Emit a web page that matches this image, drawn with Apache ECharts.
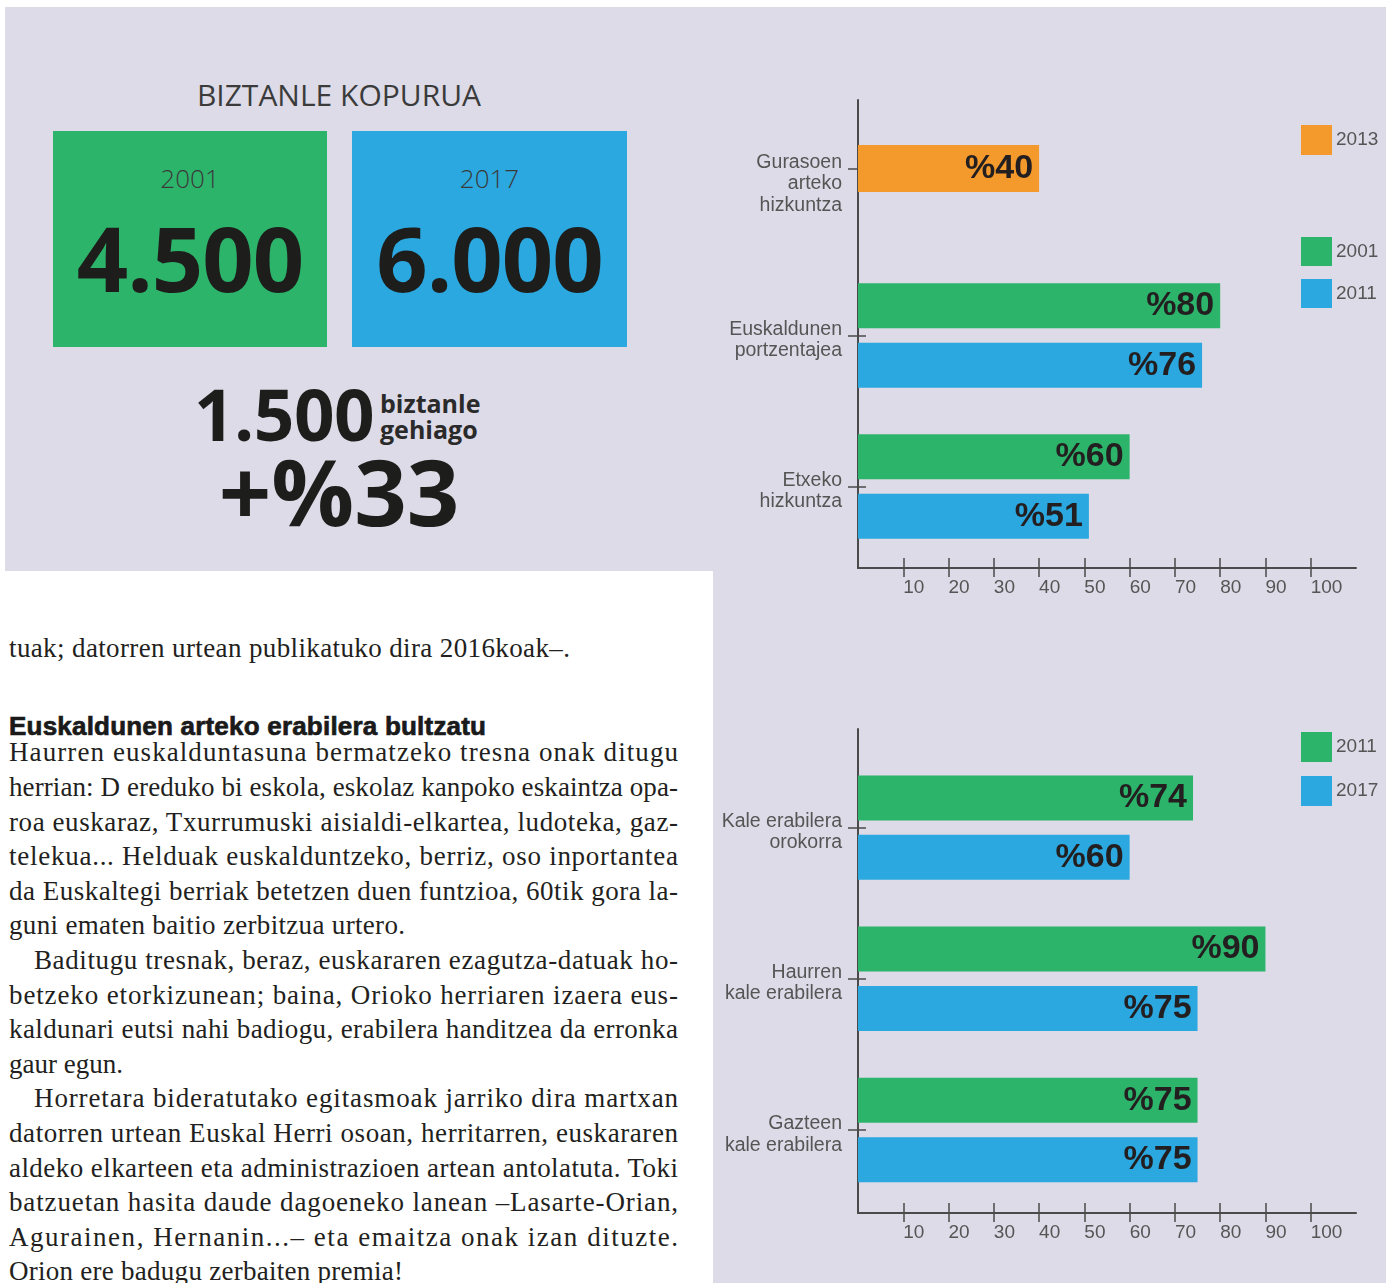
<!DOCTYPE html>
<html lang="eu">
<head>
<meta charset="utf-8">
<title>Orio - biztanleak eta euskara</title>
<script src="https://cdn.jsdelivr.net/npm/echarts@6.0.0/dist/echarts.min.js"></script>
<style>
html,body{margin:0;padding:0;background:#fff;width:1390px;height:1283px;overflow:hidden;}
#page{position:relative;width:1390px;height:1283px;}
#bg{position:absolute;left:5px;top:7px;width:1381px;height:1276px;background:#dddbe7;}
#paper{position:absolute;left:0;top:571px;width:713px;height:712px;background:#fff;}
.t{position:absolute;white-space:nowrap;font-family:'Open Sans','Liberation Sans',sans-serif;color:#1d1d1b;}
.box{position:absolute;top:131px;height:216px;}
.box .yr{position:absolute;left:0;right:0;text-align:center;font-size:26px;line-height:26px;font-weight:300;color:#3a3a3a;top:34px;font-family:'Open Sans',sans-serif;}
.box .num{position:absolute;left:0;right:0;text-align:center;font-size:90px;line-height:90px;font-weight:700;color:#1d1d1b;top:81px;letter-spacing:-1px;font-family:'Open Sans',sans-serif;}
.line{position:absolute;white-space:nowrap;font-family:'Liberation Serif','Times New Roman',serif;font-size:27px;line-height:27px;color:#231f20;}
.head{position:absolute;white-space:nowrap;font-family:'Liberation Sans',Arial,sans-serif;font-weight:bold;font-size:26px;line-height:26px;color:#1a1a1a;-webkit-text-stroke:0.7px #1a1a1a;}
.chart{position:absolute;}
</style>
</head>
<body>
<div id="page">
  <div id="bg"></div>
  <div id="paper"></div>
  <div class="t" style="left:0;width:678px;text-align:center;top:80px;font-size:30px;line-height:30px;color:#3b3b3b;">BIZTANLE KOPURUA</div>
  <div id="boxes"></div>
  <div class="t" id="diffNum" style="left:194px;top:378px;font-size:71px;line-height:71px;font-weight:700;letter-spacing:-0.5px;"></div>
  <div class="t" style="left:380px;top:391px;font-size:25px;line-height:25px;font-weight:700;color:#2a2a2a;">biztanle</div>
  <div class="t" style="left:380px;top:417px;font-size:25px;line-height:25px;font-weight:700;color:#2a2a2a;">gehiago</div>
  <div class="t" id="pctNum" style="left:0;width:678px;text-align:center;top:445px;font-size:92px;line-height:92px;font-weight:700;"></div>
  <div id="article"></div>
  <div class="chart" id="chartA" style="left:711px;top:0;width:679px;height:640px;"></div>
  <div class="chart" id="chartB" style="left:711px;top:640px;width:679px;height:643px;"></div>
</div>
<script>
// ---------- DATA ----------
const popYears = ['2001', '2017'];
const popTotals = [4500, 6000];

const chart1Categories = ['Gurasoen\narteko\nhizkuntza', 'Euskaldunen\nportzentajea', 'Etxeko\nhizkuntza'];
const chart1SeriesNames = ['2013', '2001', '2011'];
const parentsLanguage2013 = [40];
const basque2001 = [80, 60];
const basque2011 = [76, 51];

const chart2Categories = ['Kale erabilera\norokorra', 'Haurren\nkale erabilera', 'Gazteen\nkale erabilera'];
const chart2SeriesNames = ['2011', '2017'];
const street2011 = [74, 90, 75];
const street2017 = [60, 75, 75];

const xTickValues = [10, 20, 30, 40, 50, 60, 70, 80, 90, 100];

const articleHead = 'Euskaldunen arteko erabilera bultzatu';
const articleFirst = 'tuak; datorren urtean publikatuko dira 2016koak–.';
const articleBody = [
  'Haurren euskalduntasuna bermatzeko tresna onak ditugu',
  'herrian: D ereduko bi eskola, eskolaz kanpoko eskaintza opa-',
  'roa euskaraz, Txurrumuski aisialdi-elkartea, ludoteka, gaz-',
  'telekua... Helduak euskalduntzeko, berriz, oso inportantea',
  'da Euskaltegi berriak betetzen duen funtzioa, 60tik gora la-',
  'guni ematen baitio zerbitzua urtero.',
  'Baditugu tresnak, beraz, euskararen ezagutza-datuak ho-',
  'betzeko etorkizunean; baina, Orioko herriaren izaera eus-',
  'kaldunari eutsi nahi badiogu, erabilera handitzea da erronka',
  'gaur egun.',
  'Horretara bideratutako egitasmoak jarriko dira martxan',
  'datorren urtean Euskal Herri osoan, herritarren, euskararen',
  'aldeko elkarteen eta administrazioen artean antolatuta. Toki',
  'batzuetan hasita daude dagoeneko lanean –Lasarte-Orian,',
  'Agurainen, Hernanin...– eta emaitza onak izan dituzte.',
  'Orion ere badugu zerbaiten premia!'
];

// ---------- STYLE ----------
const GREEN = '#2db46b', BLUE = '#2ba8e0', ORANGE = '#f4992b';
const AXIS_COLOR = '#4a4a4a', LABEL_COLOR = '#555555';
const FONT = "'Liberation Sans', Arial, sans-serif";

function fmt(n) { return String(n).replace(/\B(?=(\d{3})+(?!\d))/g, '.'); }

// ---------- LEFT PANEL ----------
const boxColors = [GREEN, BLUE];
const boxLefts = [53, 352];
const boxWidths = [274, 275];
const boxes = document.getElementById('boxes');
popYears.forEach((y, i) => {
  const b = document.createElement('div');
  b.className = 'box';
  b.style.left = boxLefts[i] + 'px';
  b.style.width = boxWidths[i] + 'px';
  b.style.background = boxColors[i];
  b.innerHTML = '<div class="yr">' + y + '</div><div class="num">' + fmt(popTotals[i]) + '</div>';
  boxes.appendChild(b);
});
const diff = popTotals[1] - popTotals[0];
document.getElementById('diffNum').textContent = fmt(diff);
document.getElementById('pctNum').textContent = '+%' + Math.round(diff / popTotals[0] * 100);

// ---------- ARTICLE ----------
const art = document.getElementById('article');
const fitList = [];
function addLine(cls, text, left, baseline, baseOff, right) {
  const d = document.createElement('div');
  d.className = cls;
  d.textContent = text;
  d.style.left = left + 'px';
  d.style.top = (baseline - baseOff) + 'px';
  art.appendChild(d);
  fitList.push([d, right - left]);
}
addLine('line', articleFirst, 9, 657.5, 22.6, 570);
addLine('head', articleHead, 9, 735, 22, 486);
const indented = [6, 10];
const endsAt = {5: 405, 9: 123, 15: 403};
articleBody.forEach((txt, n) => {
  const left = indented.includes(n) ? 34 : 9;
  const right = endsAt[n] !== undefined ? endsAt[n] : 678;
  addLine('line', txt, left, 762 + 34.6 * n, 22.6, right);
});
function fitAll() {
  fitList.forEach(([el, target]) => {
    el.style.letterSpacing = '0px';
    const w = el.getBoundingClientRect().width;
    const n = Math.max(1, el.textContent.length - 1);
    el.style.letterSpacing = ((target - w) / n) + 'px';
  });
}
fitAll();
if (document.fonts && document.fonts.ready) document.fonts.ready.then(fitAll);

// ---------- CHARTS ----------
const valueLabel = {
  show: true, position: 'insideRight', distance: 6,
  formatter: p => '%' + p.value,
  color: '#231f20', fontSize: 34, fontWeight: 'bold', fontFamily: FONT
};
const legendText = { color: LABEL_COLOR, fontSize: 19, fontFamily: FONT, padding: [0, 0, 0, -1] };

function frameX(gridIndex) {
  return {
    gridIndex, type: 'value', min: 0, max: 110,
    axisLine: { show: true, onZero: false, lineStyle: { color: AXIS_COLOR, width: 2 } },
    axisTick: { show: true, inside: true, length: 10, customValues: xTickValues, lineStyle: { color: AXIS_COLOR, width: 1.5 } },
    axisLabel: { show: true, customValues: xTickValues, align: 'left', margin: 10, color: LABEL_COLOR, fontSize: 19, fontFamily: FONT },
    splitLine: { show: false }
  };
}
function frameY(gridIndex) {
  return {
    gridIndex, type: 'value', min: 0, max: 1,
    axisLine: { show: true, onZero: false, lineStyle: { color: AXIS_COLOR, width: 2 } },
    axisTick: { show: false }, axisLabel: { show: false }, splitLine: { show: false }
  };
}
function barX(gridIndex, offset, showTicks) {
  return {
    gridIndex, type: 'value', min: 0, max: 110, offset: offset, show: true,
    axisLine: { show: false, onZero: false },
    axisTick: { show: showTicks, length: 9, customValues: xTickValues, lineStyle: { color: AXIS_COLOR, width: 1.5 } },
    axisLabel: { show: false }, splitLine: { show: false }
  };
}
function catY(gridIndex, data) {
  return {
    gridIndex, type: 'category', inverse: true, data, offset: -8,
    axisLine: { show: false, onZero: false },
    axisTick: { show: true, alignWithLabel: true, length: 18, lineStyle: { color: AXIS_COLOR, width: 1.5 } },
    axisLabel: { show: true, interval: 0, margin: 24, color: LABEL_COLOR, fontSize: 19.5, lineHeight: 21.5,
      fontFamily: FONT, align: 'right', verticalAlign: 'top', padding: [-17, 0, 0, 0] },
    splitLine: { show: false }
  };
}
function grid(top, height) {
  return { left: 147, right: 34, top, height, outerBoundsMode: 'none', containLabel: false };
}
function legend(names, top, itemHeight, itemGap) {
  return { data: names, left: 590, top, orient: 'vertical', icon: 'rect', padding: 0,
    itemWidth: 31, itemHeight, itemGap, textStyle: legendText, selectedMode: false };
}

const chartA = echarts.init(document.getElementById('chartA'), null, { renderer: 'canvas' });
chartA.setOption({
  animation: false,
  backgroundColor: 'transparent',
  grid: [grid(100, 468), grid(122, 93), grid(260, 302)],
  xAxis: [frameX(0), barX(1, 0, false), barX(2, 6, true)],
  yAxis: [frameY(0), catY(1, chart1Categories.slice(0, 1)), catY(2, chart1Categories.slice(1))],
  legend: [
    legend([chart1SeriesNames[0]], 125, 30, 12),
    legend(chart1SeriesNames.slice(1), 237, 29, 13)
  ],
  series: [
    { type: 'bar', name: chart1SeriesNames[0], xAxisIndex: 1, yAxisIndex: 1, data: parentsLanguage2013,
      barWidth: 47, itemStyle: { color: ORANGE }, label: valueLabel },
    { type: 'bar', name: chart1SeriesNames[1], xAxisIndex: 2, yAxisIndex: 2, data: basque2001,
      barWidth: 45, barGap: '32%', itemStyle: { color: GREEN }, label: valueLabel },
    { type: 'bar', name: chart1SeriesNames[2], xAxisIndex: 2, yAxisIndex: 2, data: basque2011,
      barWidth: 45, barGap: '32%', itemStyle: { color: BLUE }, label: valueLabel }
  ]
});

const chartB = echarts.init(document.getElementById('chartB'), null, { renderer: 'canvas' });
chartB.setOption({
  animation: false,
  backgroundColor: 'transparent',
  grid: [grid(89, 484), grid(112, 453.6)],
  xAxis: [frameX(0), barX(1, 7.4, true)],
  yAxis: [frameY(0), catY(1, chart2Categories)],
  legend: [legend(chart2SeriesNames, 92, 30, 14)],
  series: [
    { type: 'bar', name: chart2SeriesNames[0], xAxisIndex: 1, yAxisIndex: 1, data: street2011,
      barWidth: 45, barGap: '32%', itemStyle: { color: GREEN }, label: valueLabel },
    { type: 'bar', name: chart2SeriesNames[1], xAxisIndex: 1, yAxisIndex: 1, data: street2017,
      barWidth: 45, barGap: '32%', itemStyle: { color: BLUE }, label: valueLabel }
  ]
});
</script>
</body>
</html>
